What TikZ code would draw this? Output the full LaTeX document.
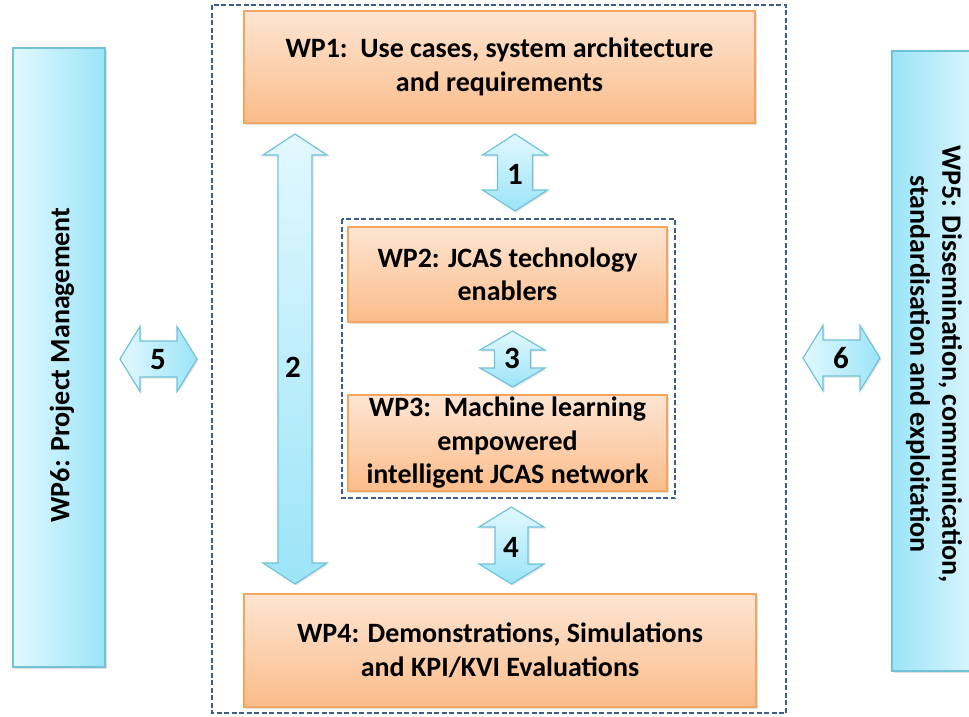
\documentclass[tikz,border=0pt]{standalone}
\usepackage{fontspec}
\setmainfont{Carlito}
\usetikzlibrary{shadows}
\definecolor{orTop}{HTML}{FDE5D2}
\definecolor{orBot}{HTML}{FBBC8A}
\definecolor{orLine}{HTML}{F5A562}
\definecolor{blLight}{HTML}{E2F8FE}
\definecolor{blDark}{HTML}{9BE4F7}
\definecolor{blLine}{HTML}{72C2D7}
\definecolor{dashC}{HTML}{3E5D8C}
\tikzset{
  wpbox/.style={draw=orLine, line width=1.3pt, top color=orTop, bottom color=orBot,
    font=\bfseries\fontsize{28}{33.5}\selectfont, align=center, inner sep=0pt,
    drop shadow={shadow xshift=1.5pt, shadow yshift=-1.5pt, opacity=0.25}},
  sidebox/.style={draw=blLine, line width=1.3pt, inner sep=0pt,
    drop shadow={shadow xshift=1.5pt, shadow yshift=-1.5pt, opacity=0.25}},
  sidetext/.style={font=\bfseries\fontsize{28}{32}\selectfont, align=center, inner sep=0pt},
  blockarrow/.style={draw=blLine, line width=1.2pt, line join=miter,
    drop shadow={shadow xshift=1.5pt, shadow yshift=-1.5pt, opacity=0.2}},
  frame/.style={draw=dashC, line width=2.1pt, dash pattern=on 5pt off 2.5pt},
  numlabel/.style={font=\bfseries\fontsize{31}{34}\selectfont, inner sep=0pt}
}
% vertical double block arrow: cx, ytop, ybot, head half width, shaft half width, head length
\newcommand\vblockarr[6]{%
  \path[blockarrow, top color=blLight, bottom color=blDark]
    (#1,#2) -- ({#1+#4},{#2+#6}) -- ({#1+#5},{#2+#6}) -- ({#1+#5},{#3-#6})
    -- ({#1+#4},{#3-#6}) -- (#1,#3) -- ({#1-#4},{#3-#6}) -- ({#1-#5},{#3-#6})
    -- ({#1-#5},{#2+#6}) -- ({#1-#4},{#2+#6}) -- cycle;}
% horizontal double block arrow: cy, xleft, xright, head half width, shaft half width, head length
\newcommand\hblockarr[6]{%
  \path[blockarrow, left color=blLight, right color=blDark]
    (#2,#1) -- ({#2+#6},{#1-#4}) -- ({#2+#6},{#1-#5}) -- ({#3-#6},{#1-#5})
    -- ({#3-#6},{#1-#4}) -- (#3,#1) -- ({#3-#6},{#1+#4}) -- ({#3-#6},{#1+#5})
    -- ({#2+#6},{#1+#5}) -- ({#2+#6},{#1+#4}) -- cycle;}
\begin{document}
\begin{tikzpicture}[x=1pt, y=-1pt]
\useasboundingbox (0,0) rectangle (969,716);
\fill[white] (0,0) rectangle (969,716);

% dashed frames
\draw[frame] (212,5) rectangle (786,713);
\draw[frame] (342,219) rectangle (675,498);

% side boxes
\node[sidebox, left color=blLight, right color=blDark, minimum width=92pt, minimum height=619pt]
  (wp6) at (59,357.5) {};
\node[sidetext, rotate=90] (wp6t) at (62,365) {WP6: Project Management};
\node[sidebox, left color=blDark, right color=blLight, minimum width=93pt, minimum height=620pt]
  (wp5) at (938.5,361) {};
\node[sidetext, rotate=-90] (wp5t) at (934,364) {WP5: Dissemination, communication,\\standardisation and exploitation};

% work package boxes
\node[wpbox, minimum width=511pt, minimum height=112pt] (wp1) at (499.5,67)
  {WP1:\ \ Use cases, system architecture\\and requirements};
\node[wpbox, minimum width=319pt, minimum height=95pt] (wp2) at (507.5,274.5)
  {WP2: JCAS technology\\enablers};
\node[wpbox, minimum width=319pt, minimum height=96pt] (wp3) at (507.5,443)
  {WP3:\ \ Machine learning\\empowered\\intelligent JCAS network};
\node[wpbox, minimum width=512pt, minimum height=113pt] (wp4) at (500,650.5)
  {WP4: Demonstrations, Simulations\\and KPI/KVI Evaluations};

% block arrows
\vblockarr{515}{134}{211}{32.5}{17.5}{21}
\vblockarr{295}{134}{584}{32}{17}{21}
\vblockarr{512.5}{331}{387}{32.5}{18}{19}
\vblockarr{511.5}{507}{584}{32.5}{16.5}{20}
\hblockarr{359}{120}{197}{32.5}{18}{20}
\hblockarr{358}{803}{880}{32.5}{18}{20}

% arrow labels
\node[numlabel] (n1) at (515,174) {1};
\node[numlabel] (n2) at (293,367) {2};
\node[numlabel] (n3) at (512,358) {3};
\node[numlabel] (n4) at (511,547) {4};
\node[numlabel] (n5) at (158,360) {5};
\node[numlabel] (n6) at (841,358) {6};
\end{tikzpicture}
\end{document}
